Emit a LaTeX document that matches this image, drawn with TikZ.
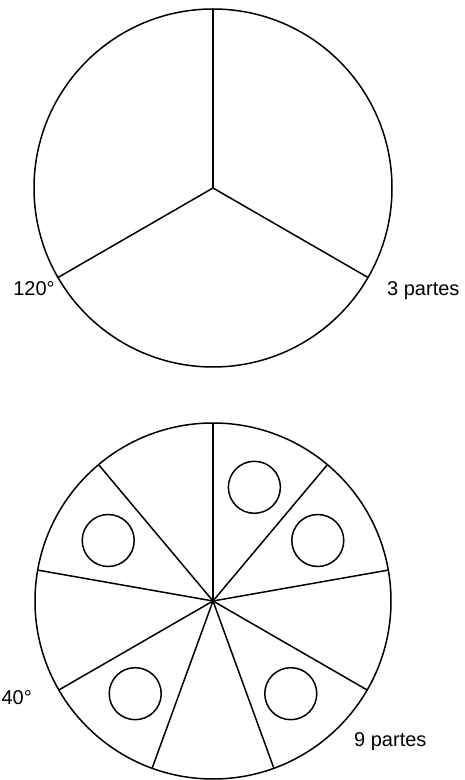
\documentclass[tikz,border=0pt]{standalone}
\usepackage{fontspec}
\setmainfont{Liberation Sans}
\usetikzlibrary{calc}

\begin{document}
\begin{tikzpicture}[
  x=1pt, y=1pt,
  rim/.style={draw=black, line width=1.5pt},
  spoke/.style={draw=black, line width=1.5pt},
  piece/.style={circle, draw=black, line width=1.5pt, minimum size=52pt, inner sep=0pt},
  lbl/.style={font=\fontsize{20}{24}\selectfont, inner sep=0pt}]

  \useasboundingbox (0,0) rectangle (464,780);

  % upper disc: 3 parts
  \coordinate (c3) at (213,592);
  \draw[rim] (c3) circle (179);
  \foreach \a in {90,210,330}
    \draw[spoke] (c3) -- ($(c3)+(\a:179)$);
  \node[lbl, anchor=base] (ang3) at (34,484) {120°};
  \node[lbl, anchor=base west] (num3) at (387,484) {3 partes};

  % lower disc: 9 parts
  \coordinate (c9) at (213,179);
  \draw[rim] (c9) circle (178);
  \foreach \a in {90,130,...,410}
    \draw[spoke] (c9) -- ($(c9)+(\a:178)$);
  % small round pieces in some of the sectors
  \foreach \a/\n in {70/p1,30/p2,-50/p3,-130/p4,150/p5}
    \node[piece] (\n) at ($(c9)+(\a:121)$) {};
  \node[lbl, anchor=base east] (ang9) at (32,75) {40°};
  \node[lbl, anchor=base west] (num9) at (354,33) {9 partes};
\end{tikzpicture}
\end{document}
